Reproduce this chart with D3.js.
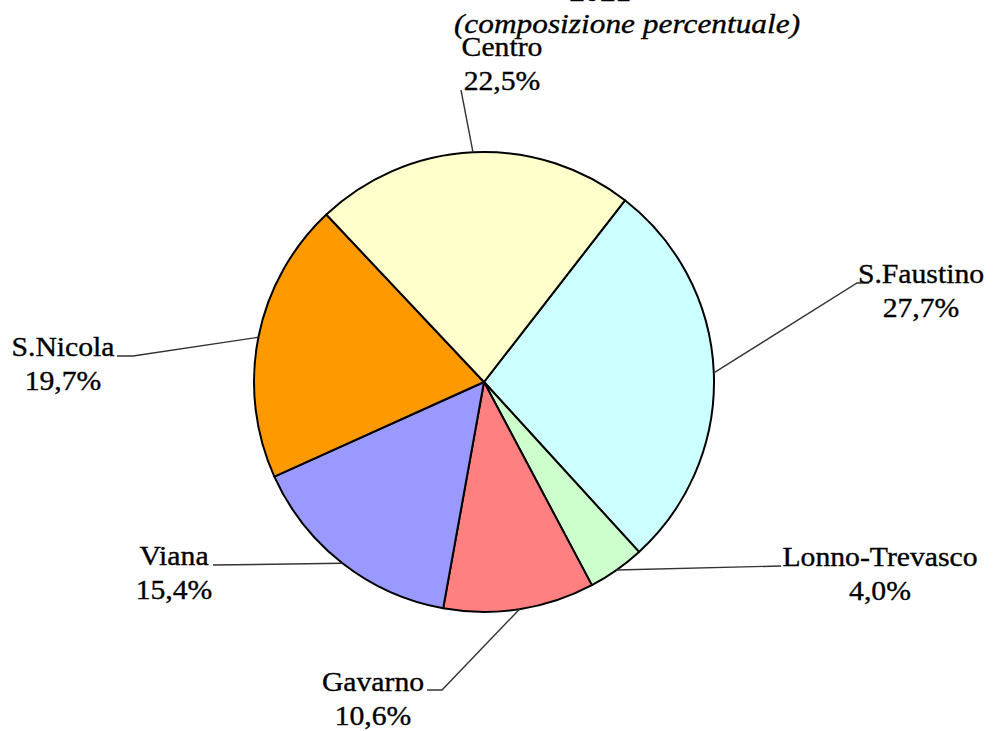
<!DOCTYPE html>
<html><head><meta charset="utf-8">
<script src="https://cdn.jsdelivr.net/npm/d3@7"></script>
<style>body{margin:0;background:#fff}svg{display:block}</style>
</head><body>
<svg id="c" width="1000" height="731"></svg>
<script>
const categories = ["S.Faustino","Lonno-Trevasco","Gavarno","Viana","S.Nicola","Centro"];
const values = [27.7, 4.0, 10.6, 15.4, 19.7, 22.5];
const colors = ["#CCFFFF","#CCFFCC","#FF8080","#9999FF","#FF9900","#FFFFCC"];
const titleLines = ["2021", "(composizione percentuale)"];

const FONT = "Liberation Serif";
const svg = d3.select("#c");
const cx = 484, cy = 382, R = 230;
const fmt = v => d3.format(".1f")(v).replace(".", ",") + "%";

// label layout: centre x, first baseline, leader elbow points
const layout = {
  "Centro":        {x: 502, y: 56,  pts: [[461, 90]]},
  "S.Faustino":    {x: 921, y: 283, pts: [[857, 283], [869, 283]]},
  "Lonno-Trevasco":{x: 880, y: 566, pts: [[781, 566]]},
  "Gavarno":       {x: 373, y: 691, pts: [[442, 690], [427, 690]]},
  "Viana":         {x: 174, y: 565, pts: [[213, 565]]},
  "S.Nicola":      {x: 63,  y: 356, pts: [[133, 356], [117, 356]]}
};

const data = categories.map((c, i) => ({cat: c, val: values[i], col: colors[i]}));
const startA = 37.8 * Math.PI / 180;
const pie = d3.pie().sort(null).value(d => d.val).startAngle(startA).endAngle(startA + 2 * Math.PI);
const arcs = pie(data);
const arc = d3.arc().innerRadius(0).outerRadius(R);

const g = svg.append("g").attr("transform", `translate(${cx},${cy})`);
g.selectAll("path").data(arcs).join("path")
  .attr("d", arc).attr("fill", d => d.data.col)
  .attr("stroke", "#000").attr("stroke-width", 2).attr("stroke-linejoin", "round");

// leader lines
arcs.forEach(a => {
  const m = (a.startAngle + a.endAngle) / 2;
  const p0 = [cx + R * Math.sin(m), cy - R * Math.cos(m)];
  const L = layout[a.data.cat];
  svg.append("path")
    .attr("d", d3.line()([p0, ...L.pts]))
    .attr("fill", "none").attr("stroke", "#333").attr("stroke-width", 1.4);
});

function txt(sel) {
  return sel.attr("font-family", FONT).attr("fill", "#000")
    .attr("stroke", "#000").attr("stroke-width", 0.35);
}

// labels
arcs.forEach(a => {
  const L = layout[a.data.cat];
  const t = svg.append("g").attr("transform", `translate(${L.x},${L.y}) scale(1.1,1)`);
  txt(t.append("text")).attr("text-anchor", "middle").attr("font-size", 27).text(a.data.cat);
  txt(t.append("text")).attr("text-anchor", "middle").attr("font-size", 27).attr("y", 34).text(fmt(a.data.val));
});

// titles
txt(svg.append("g").attr("transform", "translate(600,1) scale(1.1,1)").append("text"))
  .attr("text-anchor", "middle").attr("font-size", 28).attr("font-weight", "bold").text(titleLines[0]);
txt(svg.append("g").attr("transform", "translate(627,33) scale(1.12,1)").append("text"))
  .attr("text-anchor", "middle").attr("font-size", 28).attr("font-style", "italic").text(titleLines[1]);
</script>
</body></html>
